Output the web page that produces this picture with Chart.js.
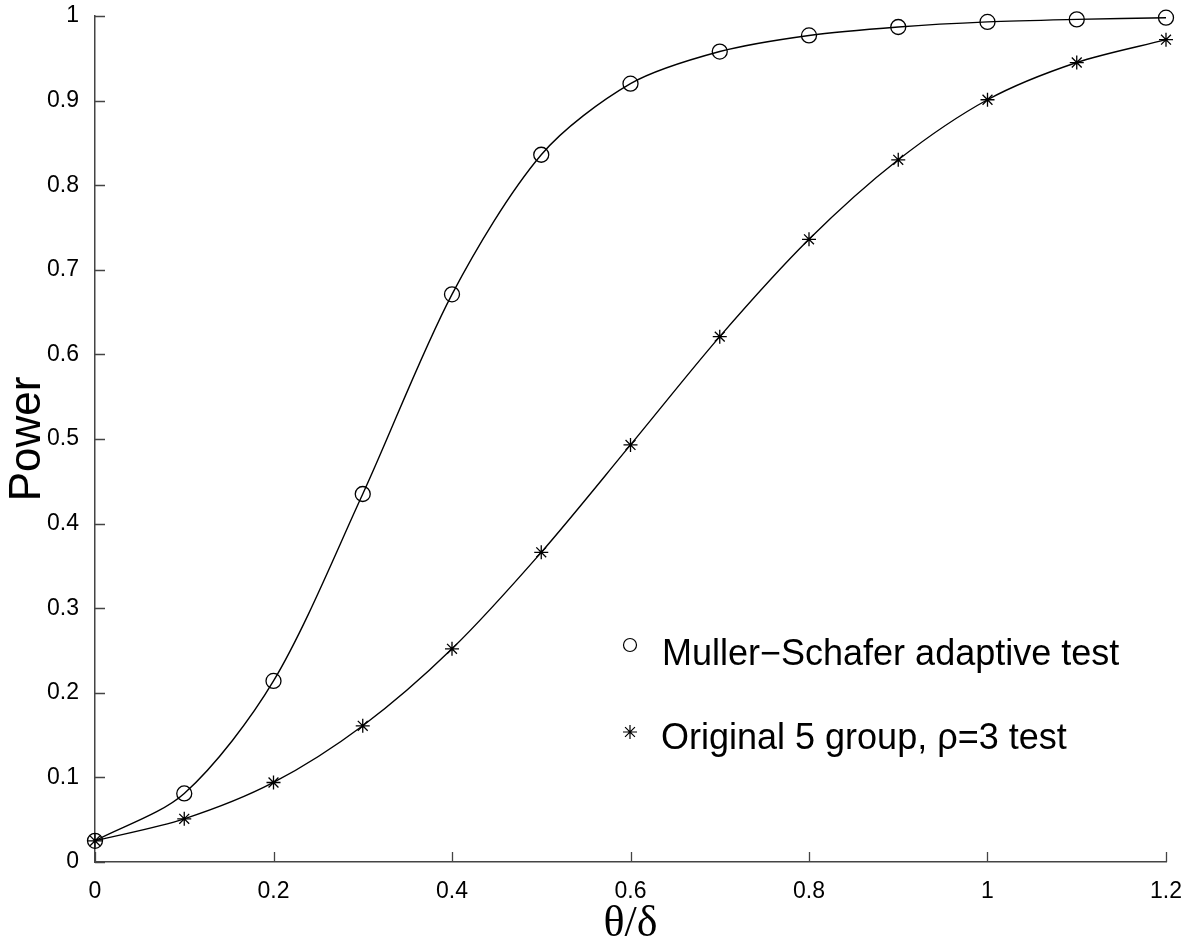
<!DOCTYPE html>
<html>
<head>
<meta charset="utf-8">
<script src="https://cdn.jsdelivr.net/npm/chart.js@4.4.1/dist/chart.umd.min.js"></script>
<style>
  html, body { margin: 0; padding: 0; background: #fff; }
  #wrap { width: 1195px; height: 941px; position: relative; }
</style>
</head>
<body>
<div id="wrap"><canvas id="powerChart"></canvas></div>
<script>
// theta/delta values
const thetaValues = [0, 0.1, 0.2, 0.3, 0.4, 0.5, 0.6, 0.7, 0.8, 0.9, 1.0, 1.1, 1.2];
// power of each test
const mullerPower = [0.025, 0.081, 0.214, 0.435, 0.671, 0.836, 0.920, 0.958, 0.977, 0.987, 0.993, 0.996, 0.998];
const originalPower = [0.025, 0.051, 0.094, 0.161, 0.252, 0.366, 0.493, 0.621, 0.736, 0.830, 0.901, 0.945, 0.972];

const seriesLabels = ['Muller\u2212Schafer adaptive test', 'Original 5 group, \u03c1=3 test'];
const xTickLabels = ['0', '0.2', '0.4', '0.6', '0.8', '1', '1.2'];
const yTickLabels = ['0', '0.1', '0.2', '0.3', '0.4', '0.5', '0.6', '0.7', '0.8', '0.9', '1'];

const toPoints = (ys) => thetaValues.map((x, i) => ({ x: x, y: ys[i] }));

function drawCircle(ctx, x, y, r) {
    ctx.beginPath();
    ctx.arc(x, y, r, 0, Math.PI * 2);
    ctx.stroke();
}

function drawStar(ctx, x, y, r) {
    ctx.beginPath();
    for (let k = 0; k < 4; k++) {
        const a = k * Math.PI / 4;
        ctx.moveTo(x - r * Math.cos(a), y - r * Math.sin(a));
        ctx.lineTo(x + r * Math.cos(a), y + r * Math.sin(a));
    }
    ctx.stroke();
}

// inward tick marks, like the original plot
const innerTicks = {
    id: 'innerTicks',
    afterDraw(chart) {
        const { ctx, chartArea, scales } = chart;
        ctx.save();
        ctx.strokeStyle = '#444';
        ctx.lineWidth = 1.3;
        ctx.beginPath();
        scales.y.ticks.forEach(t => {
            const py = Math.round(scales.y.getPixelForValue(t.value)) + 0.5;
            ctx.moveTo(chartArea.left, py);
            ctx.lineTo(chartArea.left + 10, py);
        });
        scales.x.ticks.forEach(t => {
            const px = Math.round(scales.x.getPixelForValue(t.value)) + 0.5;
            ctx.moveTo(px, chartArea.bottom);
            ctx.lineTo(px, chartArea.bottom - 10);
        });
        ctx.stroke();
        ctx.restore();
    }
};

// legend inside plot area
const plotLegend = {
    id: 'plotLegend',
    afterDraw(chart) {
        const ctx = chart.ctx;
        ctx.save();
        ctx.strokeStyle = '#000';
        ctx.lineWidth = 1.2;
        drawCircle(ctx, 630, 645, 6.5);
        drawStar(ctx, 630, 732, 7);
        ctx.fillStyle = '#000';
        ctx.font = '36px "Liberation Sans", Arial, sans-serif';
        ctx.textBaseline = 'alphabetic';
        ctx.textAlign = 'left';
        ctx.fillText(seriesLabels[0], 662, 665);
        ctx.fillText(seriesLabels[1], 661, 749);
        ctx.restore();
    }
};

const ctxPower = document.getElementById('powerChart').getContext('2d');
new Chart(ctxPower, {
    type: 'line',
    data: {
        datasets: [
            {
                label: seriesLabels[0],
                data: toPoints(mullerPower),
                borderColor: '#000',
                borderWidth: 1.4,
                pointStyle: 'circle',
                pointRadius: 7.5,
                pointBorderWidth: 1.3,
                pointBorderColor: '#000',
                pointBackgroundColor: 'rgba(0,0,0,0)',
                tension: 0.3,
                clip: false,
                fill: false
            },
            {
                label: seriesLabels[1],
                data: toPoints(originalPower),
                borderColor: '#000',
                borderWidth: 1.4,
                pointStyle: 'star',
                pointRadius: 7,
                pointBorderWidth: 1.3,
                pointBorderColor: '#000',
                pointBackgroundColor: 'rgba(0,0,0,0)',
                tension: 0.3,
                clip: false,
                fill: false
            }
        ]
    },
    options: {
        responsive: true,
        maintainAspectRatio: false,
        animation: false,
        layout: { padding: { left: 0, top: 16, right: 29, bottom: 0 } },
        plugins: {
            legend: { display: false },
            tooltip: { enabled: false }
        },
        scales: {
            x: {
                type: 'linear',
                min: 0,
                max: 1.2,
                ticks: {
                    stepSize: 0.2,
                    color: '#000',
                    padding: 8,
                    maxRotation: 0,
                    font: { family: '"Liberation Sans", Arial, sans-serif', size: 23 },
                    callback: (v, i) => xTickLabels[i]
                },
                grid: { display: false },
                border: { display: true, color: '#444', width: 1.5 },
                title: {
                    display: true,
                    text: '\u03b8/\u03b4',
                    color: '#000',
                    padding: 0,
                    font: { family: '"Liberation Serif", "Times New Roman", serif', size: 44, lineHeight: 0.75 }
                },
                afterFit: (scale) => {
                    scale.height = 79;
                    scale.paddingLeft = 0;
                    scale.paddingRight = 0;
                }
            },
            y: {
                min: 0,
                max: 1,
                ticks: {
                    stepSize: 0.1,
                    color: '#000',
                    padding: 8,
                    font: { family: '"Liberation Sans", Arial, sans-serif', size: 23 },
                    callback: (v, i) => yTickLabels[i]
                },
                grid: { display: false },
                border: { display: true, color: '#444', width: 1.5 },
                title: {
                    display: true,
                    text: 'Power',
                    color: '#000',
                    padding: { top: 6, bottom: 0 },
                    font: { family: '"Liberation Sans", Arial, sans-serif', size: 44, lineHeight: 1.0 }
                },
                afterFit: (scale) => {
                    scale.width = 95;
                    scale.paddingTop = 0;
                    scale.paddingBottom = 0;
                }
            }
        }
    },
    plugins: [innerTicks, plotLegend]
});
</script>
</body>
</html>
